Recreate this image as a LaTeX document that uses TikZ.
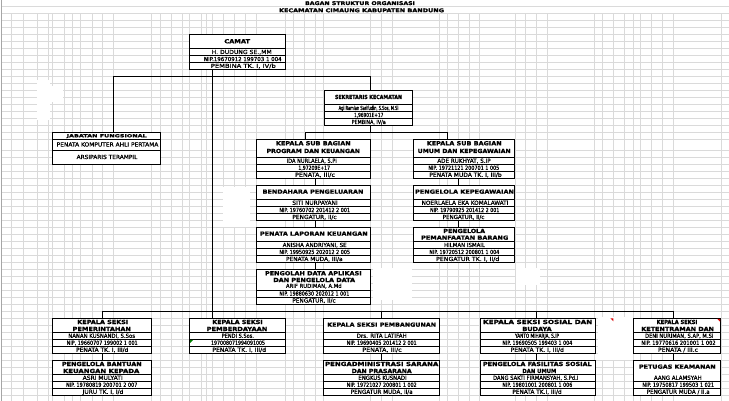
\documentclass[tikz,border=0pt]{standalone}
\usepackage{fontspec}
\setmainfont{DejaVu Sans}
\newfontfamily\heavyfont{DejaVu Sans Bold}[FakeBold=1.2]
\newfontfamily\midfont{DejaVu Sans}[FakeBold=0.9]
\usepackage{graphicx}
\definecolor{gridc}{RGB}{218,218,218}
\definecolor{xlgreen}{RGB}{0,128,0}
\definecolor{xlred}{RGB}{220,0,0}
\newcommand\fw[2]{\resizebox{#1pt}{\height}{#2}}
\newcounter{tn}
\newcommand\T[4]{\stepcounter{tn}\node[#1] (t\arabic{tn}) at (#2) {\fw{#3}{#4}};}
\newcommand\BOX[6]{%
  \node[orgbox, minimum width={(#3-#2)*1pt}, minimum height={(#5-#4)*1pt}] (#1) at (#2,#4) {};
  \foreach \s in {#6} {\draw[sepl] (#2,\s) -- (#3,\s);}
}
\tikzset{
  ttl/.style={anchor=base, inner sep=0pt, font=\fontsize{5.6}{6}\selectfont\heavyfont},
  dtl/.style={anchor=base, inner sep=0pt, font=\fontsize{5.6}{6}\selectfont\midfont},
  stl/.style={anchor=base, inner sep=0pt, font=\fontsize{4.2}{5}\selectfont\heavyfont},
  hdl/.style={anchor=base, inner sep=0pt, font=\fontsize{5.1}{6}\selectfont\heavyfont},
  orgbox/.style={draw, fill=white, line width=0.8pt, inner sep=0pt, outer sep=0pt, anchor=north west},
  conn/.style={line width=0.8pt},
  sepl/.style={line width=0.8pt},
  gridl/.style={draw=gridc, line width=0.7pt},
}
\begin{document}
\begin{tikzpicture}[x=1pt,y=-1pt]
\useasboundingbox (0,0) rectangle (729,401);
\fill[white] (0,0) rectangle (729,401);
% spreadsheet grid
\draw[gridl] (1,6) -- (729,6);
\foreach \y in {13.3,20.3,...,139.4} {\draw[gridl] (1,\y) -- (729,\y);}
\foreach \y in {150.3,157.3,...,396} {\draw[gridl] (1,\y) -- (729,\y);}
\foreach \x in {11.7,23.3,37.3,48.7,52.3,64,72.7,80.7,92,102.7,113.7,151.7,160.7,171.7,182.3,189.7,201,206.7,212.7,223.7,234.7,245.7,256.7,285.7,293.3,304.3,315.3,323.3,370.7,381.7,392.7,439.7,447.7,458.7,469.7,479.7,515,525.7,536.7,547.5,594.3,602.3,613.3,624.3,633.7,640.3,651.3,662.3,673.3,721.7}
  {\draw[gridl] (\x,13.3) -- (\x,401);}
\draw[gray!70, line width=1pt] (1,0) -- (1,401);
% blank (white) cells
\fill[white] (36.7,80) rectangle (50,120);
\fill[white] (36.7,86) rectangle (63.3,101.7);
\fill[white] (223.3,186.7) rectangle (250,226.7);
\fill[white] (598,316.7) rectangle (632.5,359.5);
\fill[white] (373,268) rectangle (412,300);
\fill[white] (516,268) rectangle (540,285);
% title
\T{hdl}{360,5}{110}{BAGAN STRUKTUR ORGANISASI}
\T{hdl}{361.5,12.2}{165}{KECAMATAN CIMAUNG KABUPATEN BANDUNG}
% junction coordinates
\coordinate (xc) at (212.3,0);
\coordinate (tb1) at (113.3,76.7);
\coordinate (tb2) at (370.7,76.7);
\coordinate (sb1) at (305,132.3);
\coordinate (sb2) at (447.3,132.3);
\coordinate (lc) at (315.7,0);
\coordinate (rc) at (458.7,0);
\coordinate (lb1) at (102.3,311.7);
\coordinate (lb2) at (673.7,311.7);
\coordinate (xg) at (381.7,0);
\coordinate (xs) at (536.7,0);
% boxes
\BOX{camat}{189.5}{285.5}{34.3}{69.3}{48.3,55.8,62.5}
\BOX{jf}{52.3}{160.3}{132.3}{164.3}{139.3,150.3}
\BOX{sek}{324}{412.7}{90.7}{125.7}{104.3,111.5,118.5}
\BOX{kp}{256.7}{370.7}{139.3}{178.3}{157.3,164.3,171.3}
\BOX{ku}{413.3}{514.7}{139.3}{178.3}{157.3,164.3,171.3}
\BOX{bend}{256.7}{370.7}{185.5}{220.5}{199.2,206.5,213.5}
\BOX{pk}{413.3}{514.7}{185.5}{220.5}{199.2,206.5,213.5}
\BOX{plk}{256.7}{370.7}{227.3}{262.5}{241.5,248.5,255.5}
\BOX{pb}{413.3}{514.7}{227.3}{262.5}{241.5,248.5,255.5}
\BOX{pd}{256.5}{370.7}{269.3}{304}{290.3,297}
\BOX{pem}{52.3}{151.7}{318.3}{353.3}{332.3,339.3,346.3}
\BOX{pbd}{189.7}{285.3}{318.3}{353.3}{332.3,339.3,346.3}
\BOX{pbg}{323.3}{439.3}{318.3}{353.3}{332.3,339.3,346.3}
\BOX{sos}{480}{595}{318.3}{353.3}{332.3,339.3,346.3}
\BOX{ket}{633.3}{720.7}{318.3}{353.3}{332.3,339.3,346.3}
\BOX{pan}{52.3}{151.7}{360.3}{395.3}{374.3,381.3,388.3}
\BOX{adm}{323.3}{439.3}{360.3}{395.3}{374.3,381.3,388.3}
\BOX{fas}{480}{595}{360.3}{395.3}{374.3,381.3,388.3}
\BOX{ptg}{633.3}{720.7}{360.3}{395.3}{381.3,388.3}
% connectors
\draw[conn] (tb1) -- (tb2);
\draw[conn] (tb1) -- (jf.north -| tb1);
\draw[conn] (tb2) -- (sek.north -| tb2);
\draw[conn] (camat.south -| xc) -- (pbd.north -| xc);
\draw[conn] (sek.south -| tb2) -- (sb1 -| tb2);
\draw[conn] (sb1) -- (sb2);
\draw[conn] (sb1) -- (kp.north -| sb1);
\draw[conn] (sb2) -- (ku.north -| sb2);
\draw[conn] (kp.south -| lc) -- (bend.north -| lc);
\draw[conn] (bend.south -| lc) -- (plk.north -| lc);
\draw[conn] (plk.south -| lc) -- (pd.north -| lc);
\draw[conn] (ku.south -| rc) -- (pk.north -| rc);
\draw[conn] (pk.south -| rc) -- (pb.north -| rc);
\draw[conn] (lb1) -- (lb2);
\draw[conn] (lb1) -- (pem.north -| lb1);
\draw[conn] (lb1 -| xg) -- (pbg.north -| xg);
\draw[conn] (lb1 -| xs) -- (sos.north -| xs);
\draw[conn] (lb2) -- (ket.north -| lb2);
\draw[conn] (pem.south -| lb1) -- (pan.north -| lb1);
\draw[conn] (pbg.south -| xg) -- (adm.north -| xg);
\draw[conn] (sos.south -| xs) -- (fas.north -| xs);
\draw[conn] (ket.south -| lb2) -- (ptg.north -| lb2);
% cell markers
\fill[xlgreen] (190.2,339.8) -- (193.2,339.8) -- (190.2,342.8) -- cycle;
\fill[xlred] (610.3,318.3) -- (613.3,318.3) -- (613.3,321.3) -- cycle;
\fill[xlred] (717.2,318.8) -- (720.2,318.8) -- (720.2,321.8) -- cycle;
% CAMAT
\T{ttl}{237.2,43.3}{25.7}{CAMAT}
\T{dtl}{241.7,54}{60}{H. DUDUNG SE.,MM}
\T{dtl}{242.8,61.1}{77.7}{NIP.19670912 199703 1 004}
\T{dtl}{243.3,67.9}{65}{PEMBINA TK. I, IV/b}
% Jabatan fungsional
\T{stl}{106.7,137.3}{80}{JABATAN FUNGSIONAL}
\T{dtl}{107.5,146.5}{101.7}{PENATA KOMPUTER AHLI PERTAMA}
\T{dtl}{107,159}{60.7}{ARSIPARIS TERAMPIL}
% Sekretaris
\T{ttl}{368.5,99}{67}{SEKRETARIS KECAMATAN}
\T{dtl}{368.5,110}{59.7}{Agi Ramlan Sarifudin, S.Sos, M.Si}
\T{dtl}{368.7,117}{29.3}{1,96901E+17}
\T{dtl}{368.7,124}{34}{PEMBINA, IV/a}
% Kasubag program
\T{ttl}{313.3,145.3}{74.7}{KEPALA SUB BAGIAN}
\T{ttl}{313.3,153}{93.3}{PROGRAM DAN KEUANGAN}
\T{dtl}{311.7,162.8}{50}{IDA NURLAELA, S.Pi}
\T{dtl}{314.2,169.8}{31.7}{1,97209E+17}
\T{dtl}{315,176.8}{40}{PENATA, III/c}
% Kasubag umum
\T{ttl}{464.2,145.3}{75}{KEPALA SUB BAGIAN}
\T{ttl}{464.2,153}{93}{UMUM DAN KEPEGAWAIAN}
\T{dtl}{464,162.8}{53.3}{ADE RUKHYAT, S.IP}
\T{dtl}{463.8,169.8}{71}{NIP. 19721121 200701 1 005}
\T{dtl}{465.5,176.8}{72.3}{PENATA MUDA TK. I, III/b}
% Bendahara
\T{ttl}{313,193.7}{100.7}{BENDAHARA PENGELUARAN}
\T{dtl}{315,204.8}{45.3}{SITI NURPAYANI}
\T{dtl}{314.7,212}{70.7}{NIP. 19760702 201412 2 001}
\T{dtl}{314.5,219}{44.3}{PENGATUR, II/c}
% Pengelola kepegawaian
\T{ttl}{464.5,193.7}{99}{PENGELOLA KEPEGAWAIAN}
\T{dtl}{465,204.8}{86.7}{NOERLAELA EKA KOMALAWATI}
\T{dtl}{464.7,212}{69.3}{NIP. 19790925 201412 2 001}
\T{dtl}{463.5,219}{41.7}{PENGATUR, II/c}
% Penata laporan
\T{ttl}{313.8,235.7}{107.7}{PENATA LAPORAN KEUANGAN}
\T{dtl}{314.7,247}{64}{ANISHA ANDRIYANI, SE}
\T{dtl}{314.7,254}{70.7}{NIP. 19950925 202012 2 005}
\T{dtl}{314.3,261}{56.7}{PENATA MUDA, III/a}
% Pemanfaatan barang
\T{ttl}{464.2,233}{41.7}{PENGELOLA}
\T{ttl}{464.7,239.7}{87.3}{PEMANFAATAN BARANG}
\T{dtl}{464.5,247}{41}{HILMAN ISMAIL}
\T{dtl}{464.3,254}{70}{NIP. 19720512 200801 1 004}
\T{dtl}{467.7,261}{63.3}{PENGATUR TK. I, II/d}
% Pengolah data
\T{ttl}{313.3,275.3}{96.7}{PENGOLAH DATA APLIKASI}
\T{ttl}{314.2,282}{81.7}{DAN PENGELOLA DATA}
\T{dtl}{313.8,287.9}{55.7}{ARIF RUDIMAN, A.Md}
\T{dtl}{314.3,295.6}{70}{NIP. 19880630 202012 1 001}
\T{dtl}{314,302.5}{43.3}{PENGATUR, II/c}
% Pemerintahan
\T{ttl}{102.8,324}{51}{KEPALA SEKSI}
\T{ttl}{101.8,331}{58.3}{PEMERINTAHAN}
\T{dtl}{101.7,337.8}{66.7}{NANAN KUSNANDI, S.Sos}
\T{dtl}{102.2,344.8}{71}{NIP, 19660707 199002 1 001}
\T{dtl}{102.2,351.8}{52.3}{PENATA TK. I, III/d}
% Pemberdayaan
\T{ttl}{237.5,324}{50.3}{KEPALA SEKSI}
\T{ttl}{237,331}{60.7}{PEMBERDAYAAN}
\T{dtl}{237.8,337.8}{32.3}{PENDI S.Sos.}
\T{dtl}{238,344.8}{54}{197008071994091005}
\T{dtl}{239.2,351.8}{53.7}{PENATA TK. I, III/d}
% Pembangunan
\T{ttl}{381.7,326.7}{108.7}{KEPALA SEKSI PEMBANGUNAN}
\T{dtl}{381.7,337.8}{50}{Drs. RITA LATIFAH}
\T{dtl}{381.7,344.8}{70}{NIP. 19690405 201412 2 001}
\T{dtl}{382,351.8}{39.3}{PENATA, III/c}
% Sosial
\T{ttl}{537.7,324}{109.3}{KEPALA SEKSI SOSIAL DAN}
\T{ttl}{537,331}{29.3}{BUDAYA}
\T{dtl}{537,337.8}{44}{YANTO MIHARJA, S.IP}
\T{dtl}{537.3,344.8}{70}{NIP. 19690505 199403 1 004}
\T{dtl}{537.3,351.8}{53.3}{PENATA TK. I, III/d}
% Ketentraman
\T{ttl}{677,324}{40.7}{KEPALA SEKSI}
\T{ttl}{677.7,331}{72.7}{KETENTRAMAN DAN}
\T{dtl}{679.2,337.8}{68.3}{DENI NURIMAN, S.AP, M.Si}
\T{dtl}{678.5,344.8}{74.3}{NIP. 19770616 201001 1 002}
\T{dtl}{678,351.8}{40}{PENATA / III.c}
% Bantuan keuangan
\T{ttl}{101.8,366}{79.7}{PENGELOLA BANTUAN}
\T{ttl}{101.2,373}{76.3}{KEUANGAN KEPADA}
\T{dtl}{102.7,379.8}{40}{ASRI MULYATI}
\T{dtl}{101.7,386.8}{71.3}{NIP. 19780819 200701 2 007}
\T{dtl}{103,393.8}{40.7}{JURU TK. I, I/d}
% Sarana prasarana
\T{ttl}{381.7,366}{113.3}{PENGADMINISTRASI SARANA}
\T{ttl}{381.7,373}{60}{DAN PRASARANA}
\T{dtl}{382.5,379.8}{48.3}{ENGKUS KUSNADI}
\T{dtl}{381.7,386.8}{70}{NIP. 19721027 200801 1 002}
\T{dtl}{381.7,393.8}{62}{PENGATUR MUDA, II/a}
% Fasilitas sosial
\T{ttl}{537.3,366}{108.7}{PENGELOLA FASILITAS SOSIAL}
\T{ttl}{539.3,373}{34}{DAN UMUM}
\T{dtl}{535.7,379.8}{85.3}{DANG SAKTI FIRMANSYAH, S.Pd.I}
\T{dtl}{537.3,386.8}{70}{NIP. 19801001 200801 1 006}
\T{dtl}{537,393.8}{49.3}{PENATA TK.I, III/d}
% Petugas keamanan
\T{ttl}{677.3,368.7}{76.7}{PETUGAS KEAMANAN}
\T{dtl}{677.8,379.8}{47.7}{AANG ALAMSYAH}
\T{dtl}{678.2,386.8}{71.7}{NIP. 19750817 199503 1 021}
\T{dtl}{678.2,393.8}{63}{PENGATUR MUDA / II.a}
\end{tikzpicture}
\end{document}
